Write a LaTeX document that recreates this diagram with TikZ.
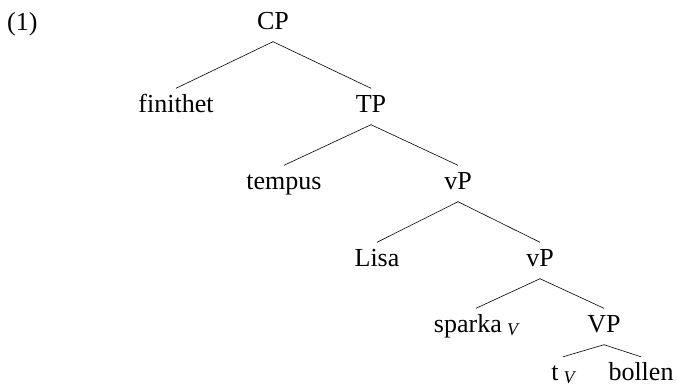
\documentclass[tikz,border=0pt]{standalone}
\usepackage{fontspec}
\setmainfont{Liberation Serif}
\newcommand{\subV}{\hspace{0.2em}\raisebox{-0.15em}{\fontsize{18}{20}\selectfont\itshape V}}
\begin{document}
\begin{tikzpicture}[x=1pt,y=-1pt,
  treenode/.style={anchor=base, inner xsep=0pt, inner ysep=5.5pt,
    text height=18pt, text depth=7pt, font=\fontsize{26}{30}\selectfont},
  leafnode/.style={treenode, inner ysep=0pt, text height=23pt, text depth=0pt},
  branch/.style={draw=black, line width=0.6pt}]
  \useasboundingbox (0,0) rectangle (677,388);

  % example number
  \node[anchor=base west, inner sep=0pt, font=\fontsize{26}{30}\selectfont] (exnum) at (7,30) {(1)};

  % tree labels
  \node[treenode] (cp)     at (273,29)  {CP};
  \node[treenode] (fin)    at (176,112) {finithet};
  \node[treenode] (tp)     at (371,112) {TP};
  \node[treenode] (tempus) at (284,189) {tempus};
  \node[treenode] (vpa)    at (458,189) {vP};
  \node[treenode] (lisa)   at (377,266) {Lisa};
  \node[treenode] (vpb)    at (540,266) {vP};
  \node[treenode] (sparka) at (476,332) {sparka\subV};
  \node[treenode] (vp)     at (604,332) {VP};
  \node[leafnode] (tv)     at (563,380) {t\subV};
  \node[leafnode] (bollen) at (641,380) {bollen};

  % branches
  \draw[branch] (cp.south) -- (fin.north);
  \draw[branch] (cp.south) -- (tp.north);
  \draw[branch] (tp.south) -- (tempus.north);
  \draw[branch] (tp.south) -- (vpa.north);
  \draw[branch] (vpa.south) -- (lisa.north);
  \draw[branch] (vpa.south) -- (vpb.north);
  \draw[branch] (vpb.south) -- (sparka.north);
  \draw[branch] (vpb.south) -- (vp.north);
  \draw[branch] (vp.south) -- (tv.north);
  \draw[branch] (vp.south) -- (bollen.north);
\end{tikzpicture}
\end{document}
